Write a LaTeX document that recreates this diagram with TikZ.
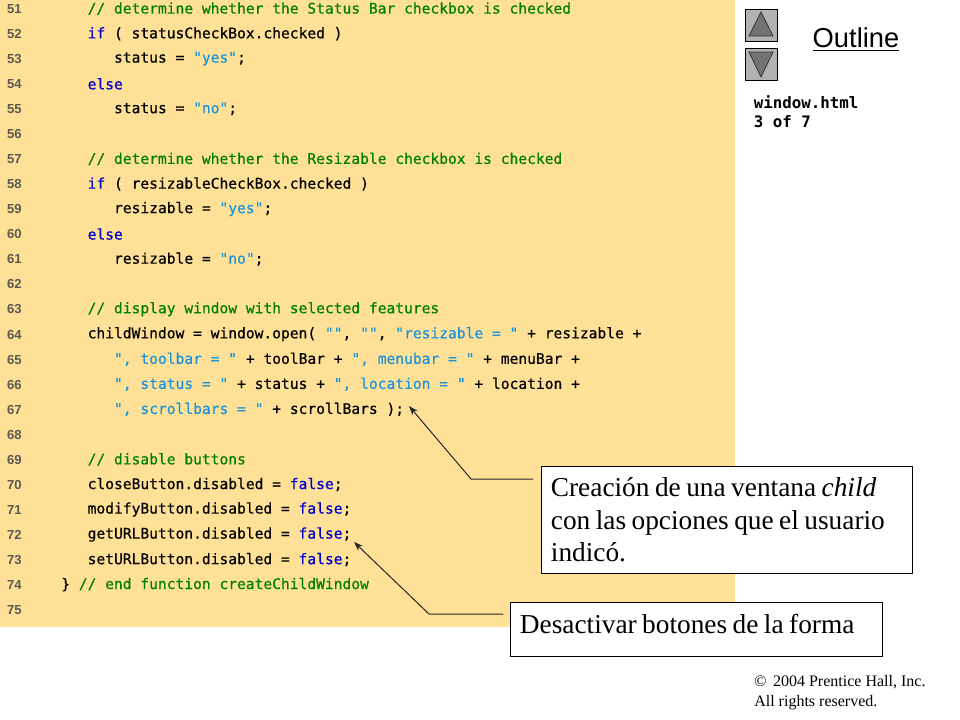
\documentclass[tikz,border=0pt]{standalone}
\usepackage{fontspec}
\setmainfont{Liberation Serif}
\setsansfont{Liberation Sans}
\setmonofont{DejaVu Sans Mono}
\newfontfamily\codefont[FakeBold=0.5]{DejaVu Sans Mono}
\usetikzlibrary{arrows.meta}
\definecolor{sheet}{HTML}{FFE097}
\definecolor{cmtgreen}{HTML}{008000}
\definecolor{kwblue}{HTML}{0000CC}
\definecolor{strblue}{HTML}{1E94D8}
\definecolor{numgray}{HTML}{5A5A50}
\newcommand{\slashslash}{\symbol{47}\symbol{47}}
\newcommand{\cmt}[1]{\textcolor{cmtgreen}{\slashslash\ #1}}
\newcommand{\kw}[1]{\textcolor{kwblue}{#1}}
\newcommand{\str}[1]{\textcolor{strblue}{"#1"}}
\newcommand{\tightwords}{\spaceskip=0.2em\relax}
\tikzset{
	x=0.75pt, y=-0.75pt,
	codeline/.style={anchor=west, inner sep=0pt, font=\codefont\fontsize{10.95}{12}\selectfont},
	linenum/.style={anchor=east, inner sep=0pt, text=numgray, font=\sffamily\bfseries\fontsize{9.8}{11}\selectfont},
	notebox/.style={draw=black, fill=white, line width=0.6pt, anchor=north west, align=left,
		inner xsep=7pt, font=\fontsize{20.5}{24.4}\selectfont},
	pointer/.style={draw=black!85, line width=0.75pt, -{Stealth[length=7pt,width=5pt]}},
	btn/.style={draw=black, fill=black!30, line width=0.7pt},
	btntri/.style={draw=black!80, fill=black!55, line width=0.6pt},
}
\begin{document}
\begin{tikzpicture}
	\useasboundingbox (0,0) rectangle (960,720);
	\fill[white] (0,0) rectangle (960,720);
	\fill[sheet] (0,0) rectangle (735,627);
	% line numbers
	\foreach \i in {51,...,75}{
		\node[linenum] (num\i) at (22, {9+(\i-51)*25.04}) {\i};
	}
	% code
	\foreach \i/\j/\k in {
		51/3/{\cmt{determine whether the Status Bar checkbox is checked}},
		52/3/{\kw{if} ( statusCheckBox.checked )},
		53/6/{status = \str{yes};},
		54/3/{\kw{else}},
		55/6/{status = \str{no};},
		57/3/{\cmt{determine whether the Resizable checkbox is checked}},
		58/3/{\kw{if} ( resizableCheckBox.checked )},
		59/6/{resizable = \str{yes};},
		60/3/{\kw{else}},
		61/6/{resizable = \str{no};},
		63/3/{\cmt{display window with selected features}},
		64/3/{childWindow = window.open( \str{}, \str{}, \str{resizable = } + resizable +},
		65/6/{\str{, toolbar = } + toolBar + \str{, menubar = } + menuBar +},
		66/6/{\str{, status = } + status + \str{, location = } + location +},
		67/6/{\str{, scrollbars = } + scrollBars );},
		69/3/{\cmt{disable buttons}},
		70/3/{closeButton.disabled = \kw{false};},
		71/3/{modifyButton.disabled = \kw{false};},
		72/3/{getURLButton.disabled = \kw{false};},
		73/3/{setURLButton.disabled = \kw{false};},
		74/0/{\} \cmt{end function createChildWindow}}%
	}{
		\node[codeline] (line\i) at ({61+\j*8.8}, {8.7+(\i-51)*25.04}) {\frenchspacing\k};
	}
	% outline buttons
	\draw[btn] (745,9) rectangle (777,41);
	\draw[btntri] (761,12) -- (773,36) -- (749,36) -- cycle;
	\draw[btn] (745,48) rectangle (777,80);
	\draw[btntri] (749,52) -- (773,52) -- (761,77) -- cycle;
	\node[inner sep=0pt, font=\sffamily\fontsize{20.5}{24}\selectfont] (outline) at (856,39.5) {\underline{Outline}};
	\node[anchor=north west, inner sep=0pt, align=left,
		font=\ttfamily\bfseries\fontsize{11.85}{14.8}\selectfont] (file) at (753.5,95) {window.html\\3 of 7};
	% notes
	\node[notebox, minimum width=371*0.75pt, minimum height=107*0.75pt, text width=352*0.75pt] (box1) at (541,466)
		{\tightwords Creación de una ventana \textit{child}\\con las opciones que el usuario\\indicó.};
	\node[notebox, minimum width=372*0.75pt, minimum height=54*0.75pt, inner ysep=8.25pt, text height=15pt, text depth=9pt, text width=353*0.75pt] (box2) at (510,602)
		{\tightwords Desactivar botones de la forma};
	\coordinate (bend1) at (471,479);
	\coordinate (tip1) at (409,406);
	\coordinate (bend2) at (429,614);
	\coordinate (tip2) at (354,542);
	\draw[pointer, shorten <=6pt] (box1.west |- bend1) -- (bend1) -- (tip1);
	\draw[pointer, shorten <=5pt] (box2.west |- bend2) -- (bend2) -- (tip2);
	% copyright
	\node[anchor=north west, inner sep=0pt, align=left, font=\fontsize{12}{15}\selectfont] (rights) at (754,675.5)
		{\textcopyright\ \,2004 Prentice Hall, Inc.\\All rights reserved.};
\end{tikzpicture}
\end{document}
